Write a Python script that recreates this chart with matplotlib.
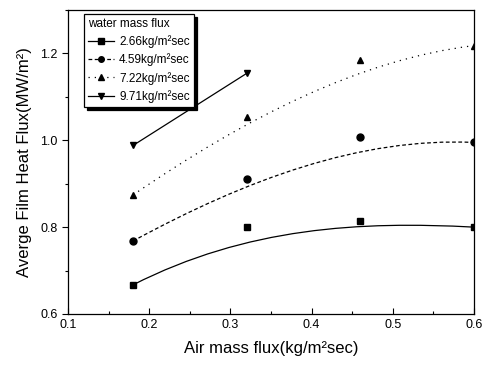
import matplotlib
matplotlib.use('Agg')
import matplotlib.pyplot as plt
from matplotlib.path import Path
from matplotlib.patches import PathPatch
from matplotlib.ticker import MultipleLocator

plt.rcParams['font.family'] = ['Liberation Sans', 'DejaVu Sans']

# data
air_flux = [0.18, 0.32, 0.46, 0.6]
labels = ['2.66kg/m²sec', '4.59kg/m²sec', '7.22kg/m²sec', '9.71kg/m²sec']
flux_266 = [0.667, 0.800, 0.814, 0.800]
flux_459 = [0.768, 0.910, 1.007, 0.995]
flux_722 = [0.874, 1.053, 1.186, 1.218]
flux_971 = [0.988, 1.154]

series = [flux_266, flux_459, flux_722, flux_971]
markers = ['s', 'o', '^', 'v']
styles = ['-', (0, (3, 2)), (0, (1, 4)), '-']

fig = plt.figure(figsize=(4.86, 3.71), dpi=100)
ax = fig.add_axes([68 / 486, 1 - 314 / 371, 406 / 486, 304 / 371])

for vals, mk, ls, lab in zip(series, markers, styles, labels):
    xs = air_flux[:len(vals)]
    # points
    ax.plot(xs, vals, linestyle='none', marker=mk, color='black', markersize=5)
    # smooth B-spline style connection (Origin-like), points as control points
    if len(vals) == 4:
        verts = list(zip(xs, vals))
        path = Path(verts, [Path.MOVETO, Path.CURVE4, Path.CURVE4, Path.CURVE4])
        ax.add_patch(PathPatch(path, facecolor='none', edgecolor='black', lw=0.9, linestyle=ls))
    else:
        ax.plot(xs, vals, color='black', lw=0.9, linestyle=ls)
    # legend handle
    ax.plot([], [], color='black', lw=0.9, linestyle=ls, marker=mk, markersize=4, label=lab)

ax.set_xlim(0.1, 0.6)
ax.set_ylim(0.6, 1.3)
ax.xaxis.set_major_locator(MultipleLocator(0.1))
ax.xaxis.set_minor_locator(MultipleLocator(0.05))
ax.yaxis.set_major_locator(MultipleLocator(0.2))
ax.yaxis.set_minor_locator(MultipleLocator(0.1))
ax.tick_params(axis='x', which='both', direction='in', labelsize=9)
ax.tick_params(axis='y', which='both', direction='out', labelsize=9)
ax.tick_params(which='major', length=4, width=0.8)
ax.tick_params(which='minor', length=2.5, width=0.8)
ax.set_yticks([0.6, 0.8, 1.0, 1.2])
ax.set_yticklabels(['0.6', '0.8', '1.0', '1.2'])
for s in ax.spines.values():
    s.set_linewidth(0.9)

ax.set_xlabel('Air mass flux(kg/m²sec)', fontsize=12, labelpad=7)
ax.set_ylabel('Averge Film Heat Flux(MW/m²)', fontsize=12, labelpad=6)

leg = ax.legend(loc='upper left', bbox_to_anchor=(0.04, 0.987), borderaxespad=0,
                title='water mass flux', title_fontsize=8.5, fontsize=8.5,
                alignment='left', fancybox=False, edgecolor='black', framealpha=1,
                shadow={'color': 'black', 'alpha': 1},
                handlelength=2.2, handletextpad=0.4, labelspacing=0.45,
                borderpad=0.35)
leg.get_frame().set_linewidth(0.9)

fig.savefig('out.png', dpi=100)
